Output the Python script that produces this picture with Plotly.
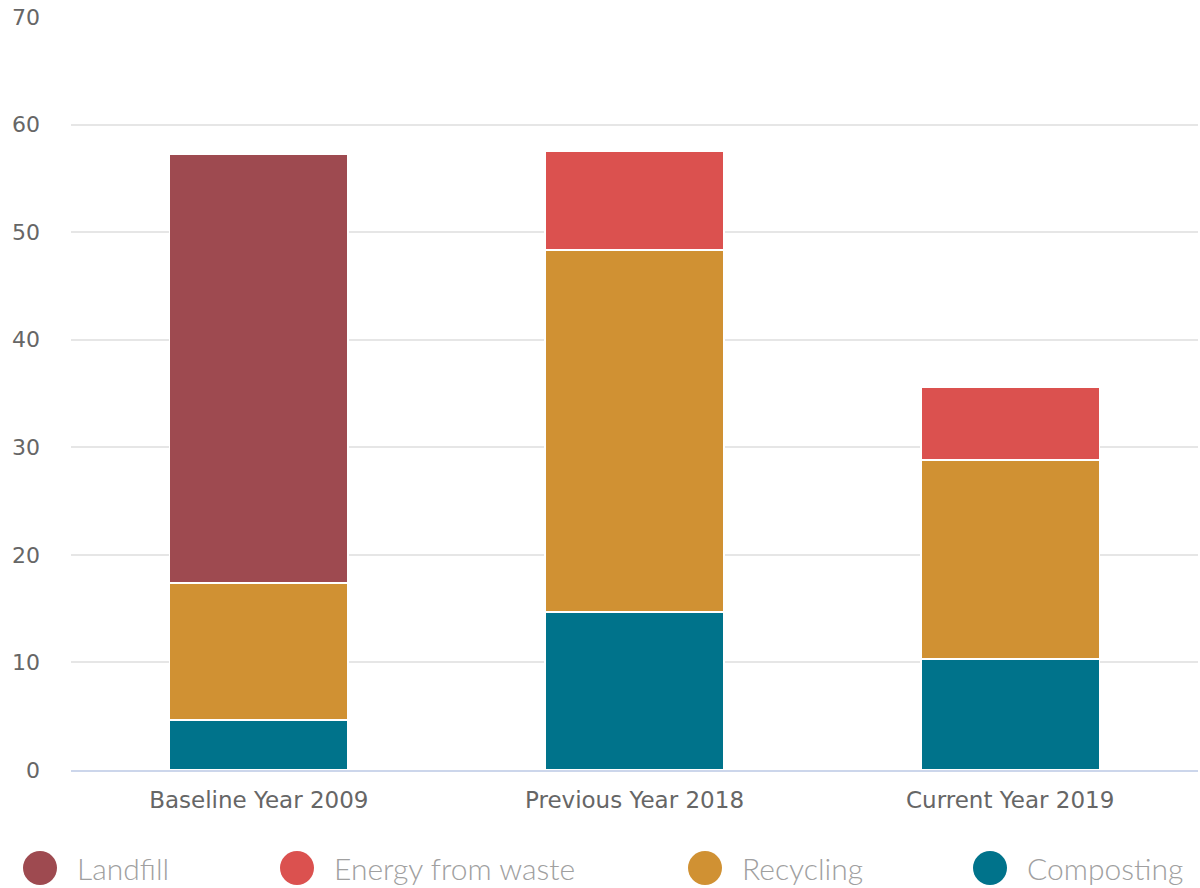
import plotly.graph_objects as go

categories = ["Baseline Year 2009", "Previous Year 2018", "Current Year 2019"]
series_names = ["Landfill", "Energy from waste", "Recycling", "Composting"]
composting = [4.65, 14.7, 10.3]
recycling = [12.75, 33.65, 18.5]
energy_from_waste = [0, 9.2, 6.8]
landfill = [39.8, 0, 0]
colors = {"Landfill": "#9E4A50", "Energy from waste": "#DB514F",
          "Recycling": "#D09133", "Composting": "#00738B"}
values = {"Composting": composting, "Recycling": recycling,
          "Energy from waste": energy_from_waste, "Landfill": landfill}

W, H = 1200, 888
L, R, T, B = 71, 2, 17, 118
pw, ph = W - L - R, H - T - B

fig = go.Figure()
for name in ["Composting", "Recycling", "Energy from waste", "Landfill"]:
    fig.add_trace(go.Bar(
        x=categories, y=values[name], name=name,
        marker=dict(color=colors[name], line=dict(color="white", width=1.5)),
        showlegend=False, hoverinfo="x+y+name"))

# custom legend (large circles)
marker_cx = [40, 297, 705, 990]
for name, cx in zip(series_names, marker_cx):
    xp = (cx - L) / pw
    yp = (T + ph - 868) / ph
    fig.add_shape(type="circle", xref="paper", yref="paper",
                  xsizemode="pixel", ysizemode="pixel",
                  xanchor=xp, yanchor=yp, x0=-17, x1=17, y0=-17, y1=17,
                  fillcolor=colors[name], line=dict(width=0))
    fig.add_annotation(x=(cx + 35 - L) / pw, y=yp, xref="paper", yref="paper",
                       text=name, showarrow=False, xanchor="left", yanchor="middle",
                       font=dict(family="Lato", size=30, color="#A0A0A0", weight=300))

fig.update_layout(
    barmode="stack", bargap=0.524,
    width=W, height=H, margin=dict(l=L, r=R, t=T, b=B),
    plot_bgcolor="white", paper_bgcolor="white",
    font=dict(family="DejaVu Sans", color="#666666"),
)
fig.update_yaxes(range=[0, 70], dtick=10, showgrid=True, gridcolor="#E6E6E6",
                 gridwidth=1.5, zeroline=False, showline=False,
                 tickfont=dict(size=22, color="#666666"), ticklabelstandoff=30)
fig.update_xaxes(showline=True, linecolor="#CCD6EB", linewidth=1.5, showgrid=False,
                 tickfont=dict(size=23, color="#666666"), ticklabelstandoff=9)

fig.write_html("out.html")
